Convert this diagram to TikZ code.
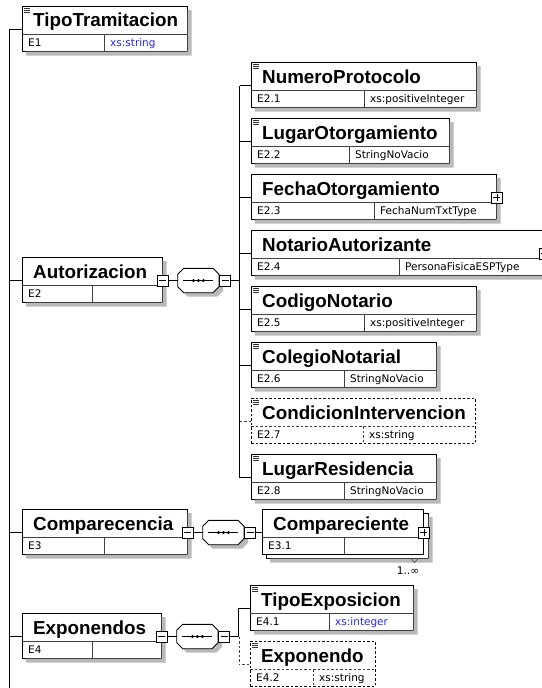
\documentclass[tikz,border=0pt]{standalone}
\usepackage{fontspec}
\usetikzlibrary{positioning}
\newfontfamily\headfont{Liberation Sans}
\newfontfamily\cellfont{DejaVu Sans}
\definecolor{boxshadow}{RGB}{185,185,185}
\definecolor{typeblue}{RGB}{40,40,235}

\tikzset{
  boxbase/.style={draw, fill=white, line width=0.9pt, inner sep=0pt, minimum height=45pt, anchor=north west},
  req/.style={boxbase},
  flat/.style={boxbase},
  opt/.style={boxbase, dash pattern=on 2.5pt off 2pt},
  req shade/.style={fill=boxshadow},
  flat shade/.style={},
  opt shade/.style={},
  req line/.style={line width=0.6pt, black!75},
  flat line/.style={req line},
  opt line/.style={line width=0.6pt, black!75, dash pattern=on 2.5pt off 2pt},
  title/.style={font=\headfont\bfseries\fontsize{18.8}{22}\selectfont, anchor=base west, inner sep=0pt},
  cell/.style={font=\cellfont\fontsize{10.5}{12}\selectfont, anchor=base west, inner sep=0pt},
  link/.style={line width=0.9pt},
  tgl/.style={draw, fill=white, line width=0.7pt, minimum size=11pt, inner sep=0pt},
  minus/.style={tgl, path picture={\draw [line width=0.8pt] ([xshift=-3.5pt]path picture bounding box.center) -- ([xshift=3.5pt]path picture bounding box.center);}},
  plus/.style={tgl, path picture={\draw [line width=0.8pt] ([xshift=-3.5pt]path picture bounding box.center) -- ([xshift=3.5pt]path picture bounding box.center) ([yshift=-3.5pt]path picture bounding box.center) -- ([yshift=3.5pt]path picture bounding box.center);}},
  seq/.style={rectangle, minimum width=41pt, minimum height=24pt, inner sep=0pt},
}

% element box: [kind] name, x, y, width, divider x, title, id, type
\newcommand{\elem}[9][req]{%
  \node [#1, minimum width=#5pt] (#2) at (#3,#4) {};
  \path [#1 shade] (#3+#5+0.5,#4+4) rectangle (#3+#5+4.5,#4+49.5)
                   (#3+4,#4+45.5) rectangle (#3+#5+4.5,#4+49.5);
  \coordinate (#2-in) at (#3,#4+23.5);
  \draw [#1 line] (#3,#4+28) -- (#3+#5,#4+28);
  \draw [#1 line] (#6,#4+28) -- (#6,#4+45);
  \node [title] (#2-t)  at (#3+11,#4+21)  {#7};
  \node [cell]  (#2-id) at (#3+6,#4+40.5) {#8};
  \node [cell]  (#2-ty) at (#6+6,#4+40.5) {#9};
}
% annotation mark in the upper left corner
\newcommand{\annot}[1]{%
  \foreach \k in {2.5,4.5,6.5}
    \draw [line width=0.7pt, black!80] ([xshift=2pt,yshift=-\k pt]#1.north west) -- ++(6pt,0pt);
}
% line and dots inside a sequence compositor
\newcommand{\seqmark}[1]{%
  \draw [link] ([xshift=-15pt]#1.center) -- ([xshift=15pt]#1.center);
  \foreach \d in {-5,0,5}
    \fill ([xshift=\d pt]#1.center) circle (1.7pt);
}

\begin{document}
\begin{tikzpicture}[x=1pt, y=-1pt]
    \useasboundingbox (0,0) rectangle (541,688);

    % Nodes
    \elem{tipo}{22}{6}{165}{104}{TipoTramitacion}{E1}{\textcolor{typeblue}{xs:string}}
    \elem{auth}{22}{257}{140}{92}{Autorizacion}{E2}{}
    \elem{numero}{251}{62}{225}{364}{NumeroProtocolo}{E2.1}{xs:positiveInteger}
    \elem{lugar}{251}{118}{198}{349}{LugarOtorgamiento}{E2.2}{StringNoVacio}
    \elem{fecha}{251}{174}{245}{374}{FechaOtorgamiento}{E2.3}{FechaNumTxtType}
    \elem{notario}{251}{230}{293}{399}{NotarioAutorizante}{E2.4}{PersonaFisicaESPType}
    \elem{codigo}{251}{286}{225}{364}{CodigoNotario}{E2.5}{xs:positiveInteger}
    \elem{colegio}{251}{342}{185}{344}{ColegioNotarial}{E2.6}{StringNoVacio}
    \elem[opt]{cond}{251}{398}{224}{363}{CondicionIntervencion}{E2.7}{xs:string}
    \elem{resid}{251}{454}{185}{344}{LugarResidencia}{E2.8}{StringNoVacio}
    \elem{compa}{22}{509}{165}{104}{Comparecencia}{E3}{}
    \node [req, minimum width=162pt] (compte-back) at (266,513) {};
    \fill [boxshadow] (428.5,517) rectangle (432.5,562.5) (270,558.5) rectangle (432.5,562.5);
    \elem[flat]{compte}{262}{509}{161}{344}{Compareciente}{E3.1}{}
    \elem{expos}{22}{613}{139}{92}{Exponendos}{E4}{}
    \elem{tipoexp}{250}{585}{163}{329}{TipoExposicion}{E4.1}{\textcolor{typeblue}{xs:integer}}
    \elem[opt]{expo}{250}{641}{125}{313}{Exponendo}{E4.2}{xs:string}

    \foreach \n in {tipo,numero,lugar,codigo,colegio,cond,resid,tipoexp,expo}
        \annot{\n};

    \node [plus] (fecha-p)   at (fecha.east |- fecha-in)     {};
    \node [plus] (notario-p) at (notario.east |- notario-in) {};
    \node [plus] (compte-p)  at (compte.east |- compte-in)   {};
    \draw [black!70, line width=0.6pt] (410.5,558) -- (414.5,562.5) -- (418.5,558);
    \node [cell, anchor=base] (compte-occ) at (408,574) {1..∞};

    % Compositors
    \node [minus] (auth-m) at (auth.east |- auth-in) {};
    \node [seq, right=9pt of auth-m] (auth-seq) {};
    \node [minus] (compa-m) at (compa.east |- compa-in) {};
    \node [seq, right=9pt of compa-m] (compa-seq) {};
    \node [minus] (expos-m) at (expos.east |- expos-in) {};
    \node [seq, right=9pt of expos-m] (expos-seq) {};
    \foreach \s in {auth-seq,compa-seq,expos-seq} {
        \fill [boxshadow] ([xshift=10pt,yshift=-4pt]\s.north west) -- ([xshift=-2pt,yshift=-4pt]\s.north east)
            -- ([xshift=4pt,yshift=-10pt]\s.north east) -- ([xshift=4pt,yshift=2pt]\s.south east) -- ([xshift=-2pt,yshift=-4pt]\s.south east)
            -- ([xshift=10pt,yshift=-4pt]\s.south west) -- ([xshift=4pt,yshift=2pt]\s.south west) -- ([xshift=4pt,yshift=-10pt]\s.north west) -- cycle;
        \draw [line width=0.9pt, fill=white] ([xshift=6pt]\s.north west) -- ([xshift=-6pt]\s.north east)
            -- ([yshift=-6pt]\s.north east) -- ([yshift=6pt]\s.south east) -- ([xshift=-6pt]\s.south east)
            -- ([xshift=6pt]\s.south west) -- ([yshift=6pt]\s.south west) -- ([yshift=-6pt]\s.north west) -- cycle;
        \seqmark{\s}
    }
    \node [minus, right=0pt of auth-seq] (auth-sm) {};
    \coordinate [right=9pt of auth-sm] (auth-bus);
    \node [minus, right=0pt of compa-seq] (compa-sm) {};
    \node [minus, right=0pt of expos-seq] (expos-sm) {};
    \coordinate [right=9pt of expos-sm] (expos-bus);

    % Paths
    \coordinate (root) at (9,29.5);
    \coordinate (rootend) at (9,690);
    \draw [link] (root) -- (rootend);
    \foreach \n in {tipo,auth,compa,expos}
        \draw [link] (\n-in -| root) -- (\n-in);

    \draw [link] (auth-m) -- (auth-seq.west);
    \draw [link] (auth-sm) -- (auth-bus);
    \draw [link] (numero-in -| auth-bus) -- (resid-in -| auth-bus);
    \foreach \n in {numero,lugar,fecha,notario,codigo,colegio,resid}
        \draw [link] (\n-in -| auth-bus) -- (\n-in);
    \draw [link, opt line] (cond-in -| auth-bus) -- (cond-in);

    \draw [link] (compa-m) -- (compa-seq.west);
    \draw [link] (compa-sm) -- (compte-in);

    \draw [link] (expos-m) -- (expos-seq.west);
    \draw [link] (expos-sm) -- (expos-bus);
    \draw [link] (tipoexp-in) -- (tipoexp-in -| expos-bus) -- (expos-bus);
    \draw [link, opt line] (expos-bus) -- (expo-in -| expos-bus) -- (expo-in);

\end{tikzpicture}
\end{document}
